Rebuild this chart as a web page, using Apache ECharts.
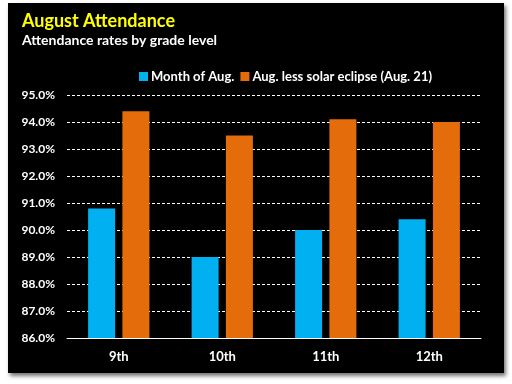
<!DOCTYPE html>
<html><head><meta charset="utf-8">
<script src="https://cdn.jsdelivr.net/npm/echarts@6/dist/echarts.min.js"></script>
<style>
html,body{margin:0;padding:0;background:#fff;width:512px;height:384px;overflow:hidden;}
#panel{position:absolute;left:8px;top:3px;width:496px;height:370px;background:#000;box-shadow:2px 3px 4px rgba(0,0,0,0.55);}
#c{position:absolute;left:0;top:0;width:512px;height:384px;}
</style></head>
<body><div id="panel"></div><div id="c"></div>
<script>
var categories = ['9th','10th','11th','12th'];
var monthOfAug = [90.8, 89.0, 90.0, 90.4];
var lessEclipse = [94.4, 93.5, 94.1, 94.0];
var seriesNames = ['Month of Aug.', 'Aug. less solar eclipse (Aug. 21)'];
var chart = echarts.init(document.getElementById('c'));
var font = 'Lato, "Open Sans", sans-serif';
chart.setOption({
  backgroundColor: 'transparent',
  animation: false,
  title: {
    text: 'August Attendance',
    subtext: 'Attendance rates by grade level',
    left: 17, top: 7,
    itemGap: 3,
    textStyle: {color: '#ffff00', fontSize: 18, fontWeight: 'bold', fontFamily: font},
    subtextStyle: {color: '#ffffff', fontSize: 14, fontWeight: 'bold', fontFamily: font}
  },
  legend: {
    data: seriesNames,
    left: 134, top: 65,
    itemWidth: 9, itemHeight: 9, itemGap: 6,
    icon: 'rect',
    textStyle: {color: '#ffffff', fontSize: 13, fontWeight: 'bold', fontFamily: font, padding: [0,0,0,-2]}
  },
  grid: {left: 67, right: 31, top: 95, bottom: 46},
  xAxis: {
    type: 'category', data: categories,
    axisLine: {lineStyle: {color: '#ffffff', width: 1}},
    axisTick: {show: false},
    axisLabel: {color: '#ffffff', fontSize: 13, fontWeight: 'bold', fontFamily: font, margin: 12}
  },
  yAxis: {
    type: 'value', min: 86, max: 95, interval: 1,
    axisLine: {show: false}, axisTick: {show: false},
    axisLabel: {color: '#ffffff', fontSize: 12, fontWeight: 'bold', fontFamily: font, margin: 12,
      formatter: function(v){return v.toFixed(1)+'%';}},
    splitLine: {lineStyle: {color: '#ffffff', type: [3,2], width: 1}}
  },
  series: [
    {name: seriesNames[0], type: 'bar', data: monthOfAug, barWidth: 27, barGap: '27%', itemStyle: {color: '#00b0f0'}},
    {name: seriesNames[1], type: 'bar', data: lessEclipse, barWidth: 27, barGap: '27%', itemStyle: {color: '#e46c0a'}}
  ]
});
</script></body></html>
